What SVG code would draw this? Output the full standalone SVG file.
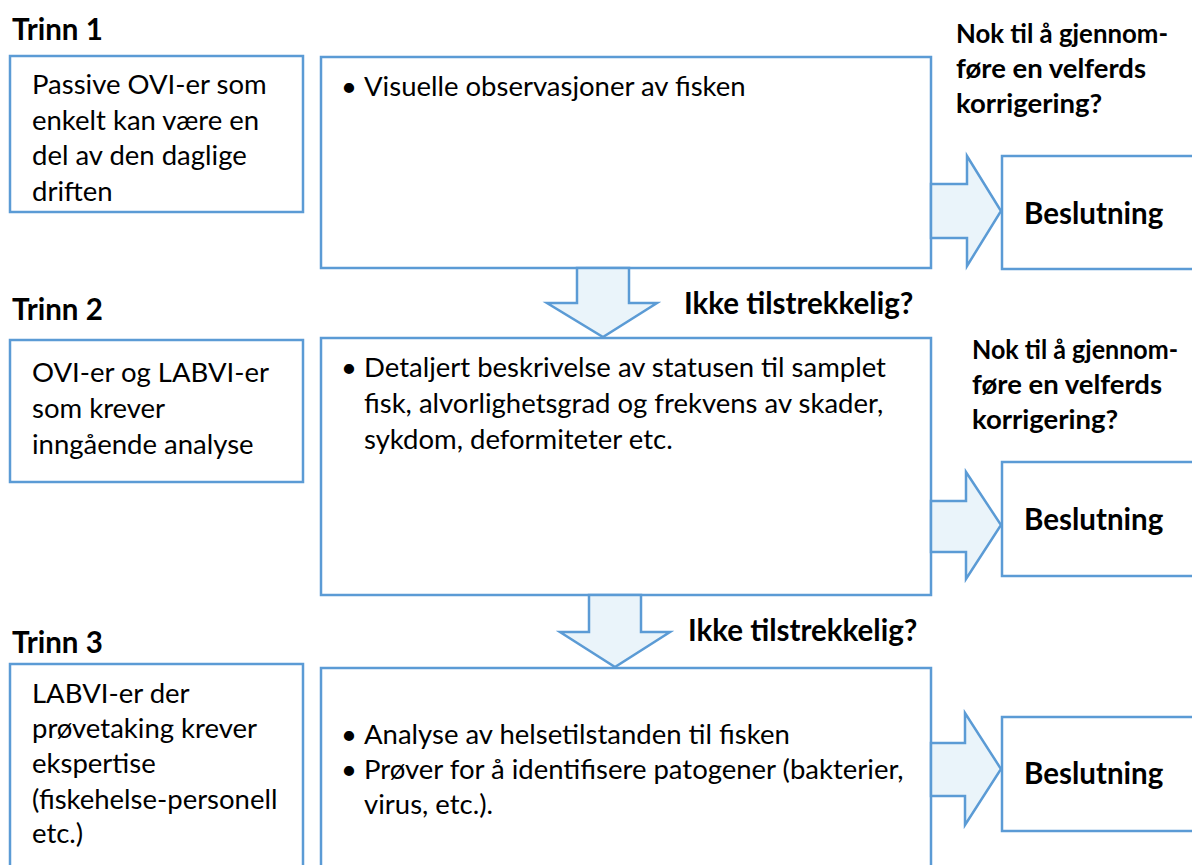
<svg xmlns="http://www.w3.org/2000/svg" width="1192" height="865" viewBox="0 0 1192 865">
<style>
.box{fill:#fff;stroke:#5B9BD5;stroke-width:2.5}
.arr{fill:#EAF4FA;stroke:#5B9BD5;stroke-width:2.5;stroke-linejoin:miter}
.t{font-family:Lato,"Liberation Sans",sans-serif;font-size:27.5px;fill:#000}
.b{font-family:Lato,"Liberation Sans",sans-serif;font-size:29.5px;font-weight:bold;fill:#000}
.q{font-family:Lato,"Liberation Sans",sans-serif;font-size:27.5px;font-weight:bold;fill:#000}
</style>
<rect width="1192" height="865" fill="#fff"/>
<g id="labels">
<text class="b" x="12" y="40">Trinn 1</text>
<text class="b" x="12" y="320">Trinn 2</text>
<text class="b" x="12" y="653">Trinn 3</text>
</g>
<g id="type1">
<rect class="box" x="10" y="56" width="293" height="156"/>
<text class="t" x="32" y="94">Passive OVI-er som</text>
<text class="t" x="32" y="129.5">enkelt kan være en</text>
<text class="t" x="32" y="165">del av den daglige</text>
<text class="t" x="32" y="200.5">driften</text>
</g>
<g id="main1">
<rect class="box" x="321" y="57" width="610" height="211"/>
<text class="t" x="341" y="96">•</text>
<text class="t" x="364" y="96">Visuelle observasjoner av fisken</text>
</g>
<g id="q1">
<text class="q" x="956" y="43" textLength="212" lengthAdjust="spacingAndGlyphs">Nok til å gjennom-</text>
<text class="q" x="956" y="78">føre en velferds</text>
<text class="q" x="956" y="113">korrigering?</text>
</g>
<g id="dec1">
<rect class="box" x="1002" y="156" width="200" height="113"/>
<text class="b" x="1024" y="224">Beslutning</text>
</g>
<g id="type2">
<rect class="box" x="10" y="340" width="293" height="142"/>
<text class="t" x="32" y="382">OVI-er og LABVI-er</text>
<text class="t" x="32" y="418">som krever</text>
<text class="t" x="32" y="454">inngående analyse</text>
</g>
<g id="main2">
<rect class="box" x="321" y="338" width="610" height="257"/>
<text class="t" x="341" y="377">•</text>
<text class="t" x="364" y="377">Detaljert beskrivelse av statusen til samplet</text>
<text class="t" x="364" y="413">fisk, alvorlighetsgrad og frekvens av skader,</text>
<text class="t" x="364" y="449">sykdom, deformiteter etc.</text>
</g>
<g id="q2">
<text class="q" x="972" y="359" style="font-size:26.5px" textLength="206" lengthAdjust="spacingAndGlyphs">Nok til å gjennom-</text>
<text class="q" x="972" y="394">føre en velferds</text>
<text class="q" x="972" y="429">korrigering?</text>
</g>
<g id="dec2">
<rect class="box" x="1002" y="462" width="200" height="114"/>
<text class="b" x="1024" y="530">Beslutning</text>
</g>
<g id="type3">
<rect class="box" x="10" y="664" width="293" height="240"/>
<text class="t" x="32" y="703">LABVI-er der</text>
<text class="t" x="32" y="738">prøvetaking krever</text>
<text class="t" x="32" y="773">ekspertise</text>
<text class="t" x="32" y="809">(fiskehelse-personell</text>
<text class="t" x="32" y="843">etc.)</text>
</g>
<g id="main3">
<rect class="box" x="321" y="668" width="610" height="240"/>
<text class="t" x="341" y="744">•</text>
<text class="t" x="364" y="744">Analyse av helsetilstanden til fisken</text>
<text class="t" x="341" y="779">•</text>
<text class="t" x="364" y="779">Prøver for å identifisere patogener (bakterier,</text>
<text class="t" x="364" y="814">virus, etc.).</text>
</g>
<g id="dec3">
<rect class="box" x="1002" y="717" width="200" height="114"/>
<text class="b" x="1024" y="784">Beslutning</text>
</g>
<g id="connectors">
<polygon class="arr" points="931,184 967,184 967,156 1001,211 967,266 967,238 931,238"/>
<polygon class="arr" points="931,501 966,501 966,472 1001,525 966,579 966,552 931,552"/>
<polygon class="arr" points="931,743 965,743 965,713 1001,769 965,825 965,796 931,796"/>
<polygon class="arr" points="577,268 629,268 629,303 657,303 603,337 547,303 577,303"/>
<polygon class="arr" points="589,595 641,595 641,632 670,632 615,667 560,632 589,632"/>
<text class="b" x="684" y="314">Ikke tilstrekkelig?</text>
<text class="b" x="688" y="641">Ikke tilstrekkelig?</text>
</g>
</svg>
